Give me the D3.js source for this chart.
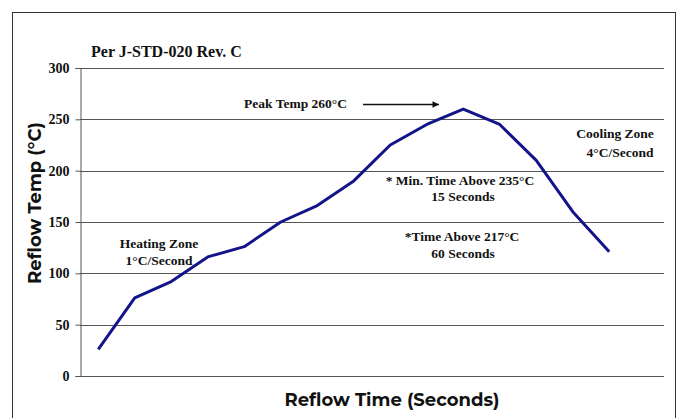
<!DOCTYPE html>
<html>
<head>
<meta charset="utf-8">
<script src="https://cdn.jsdelivr.net/npm/d3@7"></script>
<style>
  body { margin: 0; background: #fff; }
  text { font-family: "Liberation Serif", "Times New Roman", serif; font-weight: bold; fill: #111; }
  .sans { font-family: "Montserrat", "Open Sans", "DejaVu Sans", sans-serif; }
</style>
</head>
<body>
<div id="chart"></div>
<script>
// reflow profile points (no time labels on the chart, just sample index)
let sampleIdx = [1, 2, 3, 4, 5, 6, 7, 8, 9, 10, 11, 12, 13, 14, 15];
let reflowTemp = [26, 76, 92, 116, 126, 150, 166, 190, 225, 245, 260, 245, 210, 160, 121];
let yTicks = [0, 50, 100, 150, 200, 250, 300];

let svgWidth = 679, svgHeight = 418;
let margin = { top: 68, right: 15, bottom: 42, left: 80 };

let svg = d3.select("#chart")
  .append("svg")
  .attr("width", svgWidth)
  .attr("height", svgHeight);

let width = svgWidth - margin.left - margin.right,
    height = svgHeight - margin.top - margin.bottom;

// outer frame, bottom runs off the picture
svg.append("rect")
  .attr("x", 12.5).attr("y", 12.5)
  .attr("width", 663).attr("height", 420)
  .attr("fill", "none")
  .attr("stroke", "#333")
  .attr("stroke-width", 1);

let chartGroup = svg.append("g")
  .attr("transform", `translate(${margin.left}, ${margin.top})`);

let x = d3.scaleLinear().domain([0.5, 16.5]).range([0, width]);
let y = d3.scaleLinear().domain([0, 300]).range([height, 0]);

// grid lines
chartGroup.append("g")
  .selectAll("line")
  .data(yTicks)
  .enter()
  .append("line")
  .attr("x1", 0).attr("x2", width)
  .attr("y1", d => Math.round(y(d)) + 0.5)
  .attr("y2", d => Math.round(y(d)) + 0.5)
  .attr("stroke", "#555")
  .attr("stroke-width", 1);

// y axis
let yAxis = chartGroup.append("g")
  .attr("transform", "translate(0.5,0)")
  .call(d3.axisLeft(y).tickValues(yTicks).tickSize(5).tickPadding(6));
yAxis.select(".domain").attr("stroke", "#555");
yAxis.selectAll(".tick line").attr("stroke", "#555");
yAxis.selectAll(".tick text")
  .attr("font-family", "Liberation Serif, serif")
  .attr("font-weight", "bold")
  .attr("font-size", 14)
  .attr("fill", "#111");

// profile line
let line = d3.line()
  .x((d, i) => x(sampleIdx[i]))
  .y(d => y(d));

chartGroup.append("path")
  .datum(reflowTemp)
  .attr("d", line)
  .attr("fill", "none")
  .attr("stroke", "#14148a")
  .attr("stroke-width", 3)
  .attr("stroke-linejoin", "round");

// title
svg.append("text")
  .attr("x", 91).attr("y", 57)
  .attr("font-size", 16)
  .text("Per J-STD-020 Rev. C");

// axis titles
svg.append("text")
  .attr("class", "sans")
  .attr("transform", "translate(41,203) rotate(-90)")
  .attr("text-anchor", "middle")
  .attr("font-size", 18)
  .text("Reflow Temp (°C)");

svg.append("text")
  .attr("class", "sans")
  .attr("x", 392).attr("y", 406)
  .attr("text-anchor", "middle")
  .attr("font-size", 18)
  .text("Reflow Time (Seconds)");

// annotations
let notes = [
  { t: "Peak Temp 260°C", x: 244, y: 108, a: "start" },
  { t: "Cooling Zone", x: 615, y: 138, a: "middle" },
  { t: "4°C/Second", x: 620, y: 157, a: "middle" },
  { t: "* Min. Time Above 235°C", x: 460, y: 185, a: "middle" },
  { t: "15 Seconds", x: 463, y: 201, a: "middle" },
  { t: "*Time Above 217°C", x: 462, y: 241, a: "middle" },
  { t: "60 Seconds", x: 463, y: 258, a: "middle" },
  { t: "Heating Zone", x: 159, y: 248, a: "middle" },
  { t: "1°C/Second", x: 159, y: 265, a: "middle" }
];
svg.append("g")
  .selectAll("text")
  .data(notes)
  .enter()
  .append("text")
  .attr("x", d => d.x).attr("y", d => d.y)
  .attr("text-anchor", d => d.a)
  .attr("font-size", 13.5)
  .text(d => d.t);

// arrow toward the peak
svg.append("defs").append("marker")
  .attr("id", "arrow")
  .attr("viewBox", "0 0 10 10")
  .attr("refX", 10).attr("refY", 5)
  .attr("markerWidth", 6).attr("markerHeight", 5)
  .attr("orient", "auto")
  .append("path")
  .attr("d", "M0,0 L10,5 L0,10 z")
  .attr("fill", "#111");

svg.append("line")
  .attr("x1", 363).attr("x2", 439)
  .attr("y1", 104.5).attr("y2", 104.5)
  .attr("stroke", "#111")
  .attr("stroke-width", 1.3)
  .attr("marker-end", "url(#arrow)");
</script>
</body>
</html>
